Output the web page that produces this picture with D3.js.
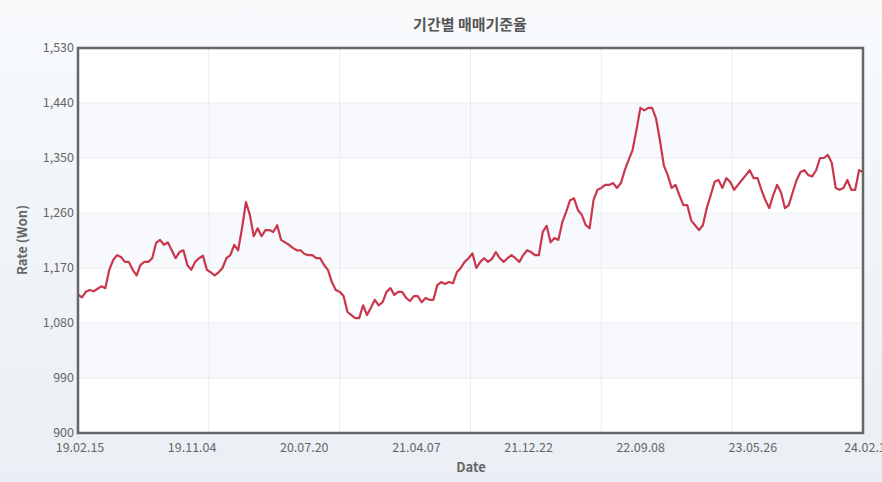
<!DOCTYPE html>
<html><head><meta charset="utf-8">
<script src="https://cdn.jsdelivr.net/npm/d3@7"></script>
<style>body{margin:0;}svg{display:block;font-family:"Noto Sans CJK KR","DejaVu Sans",sans-serif;}</style>
</head><body><svg id="c" width="882" height="482"></svg>
<script>
const title = "기간별 매매기준율";
const startDate = "2019-02-15", endDate = "2024-02-16";
const xTickLabels = ["19.02.15","19.11.04","20.07.20","21.04.07","21.12.22","22.09.08","23.05.26","24.02.1"];
const yTicks = [900,990,1080,1170,1260,1350,1440,1530];
const rates = [1127,1122,1131,1134,1132,1136,1140,1137,1167,1183,1191,1188,1180,1180,1167,1158,1175,1180,1180,1186,1211,1216,1208,1212,1199,1186,1196,1199,1175,1167,1180,1186,1190,1167,1163,1158,1163,1170,1186,1191,1208,1199,1235,1278,1257,1222,1235,1222,1232,1232,1229,1240,1216,1212,1208,1203,1199,1199,1193,1191,1191,1186,1186,1175,1167,1147,1134,1131,1124,1098,1093,1088,1088,1109,1093,1105,1118,1109,1114,1131,1137,1126,1131,1131,1121,1116,1124,1124,1114,1121,1118,1118,1142,1147,1144,1147,1145,1163,1170,1180,1186,1194,1170,1180,1186,1180,1185,1196,1186,1180,1186,1191,1186,1180,1191,1199,1196,1191,1191,1229,1239,1212,1219,1216,1245,1262,1281,1284,1265,1257,1240,1235,1281,1298,1301,1306,1306,1309,1301,1309,1330,1347,1363,1396,1432,1428,1432,1432,1415,1379,1338,1322,1301,1306,1289,1273,1273,1248,1240,1232,1240,1268,1289,1311,1314,1301,1317,1311,1298,1306,1314,1322,1330,1317,1317,1298,1281,1268,1289,1306,1294,1268,1273,1294,1314,1327,1330,1322,1320,1330,1350,1350,1355,1342,1301,1298,1301,1314,1298,1298,1330,1327];

const svg = d3.select("#c");
const W=882,H=482, m={l:78,r:19,t:48,b:49};
const defs=svg.append("defs");
const g=defs.append("linearGradient").attr("id","bg").attr("x1","0").attr("y1","0").attr("x2","0").attr("y2","1");
g.append("stop").attr("offset","0").attr("stop-color","#f8fafc");
g.append("stop").attr("offset","1").attr("stop-color","#e9eff4");
svg.append("rect").attr("width",W).attr("height",H).attr("fill","url(#bg)");

const t0=new Date(startDate), t1=new Date(endDate);
const x=d3.scaleTime().domain([t0,t1]).range([m.l,W-m.r]);
const y=d3.scaleLinear().domain([900,1530]).range([H-m.b,m.t]);
const data=rates.map((v,i)=>({d:new Date(+t0+(t1-t0)*i/(rates.length-1)),v}));

svg.append("rect").attr("x",m.l).attr("y",m.t).attr("width",W-m.l-m.r).attr("height",H-m.t-m.b).attr("fill","#fff");
// bands
for(let i=0;i<yTicks.length-1;i++){ if(i%2===1) continue;
  svg.append("rect").attr("x",m.l).attr("y",y(yTicks[i+1])).attr("width",W-m.l-m.r).attr("height",y(yTicks[i])-y(yTicks[i+1])).attr("fill",i%2===0?"#fff":"#f7f9fc");}
for(let i=0;i<yTicks.length-1;i++){ if(i%2===0) continue;
  svg.append("rect").attr("x",m.l).attr("y",y(yTicks[i+1])).attr("width",W-m.l-m.r).attr("height",y(yTicks[i])-y(yTicks[i+1])).attr("fill","#f7f9fc");}
// horizontal grid
svg.append("g").selectAll("line").data(yTicks).join("line")
 .attr("x1",m.l).attr("x2",W-m.r).attr("y1",d=>y(d)).attr("y2",d=>y(d)).attr("stroke","#e8ecf0");
// vertical grid (6 divisions)
const gridDates=d3.range(1,6).map(i=>new Date(+t0+(t1-t0)*i/6));
svg.append("g").selectAll("line").data(gridDates).join("line")
 .attr("y1",m.t).attr("y2",H-m.b).attr("x1",d=>x(d)).attr("x2",d=>x(d)).attr("stroke","#e8ecf0");

const line=d3.line().x(d=>x(d.d)).y(d=>y(d.v));
svg.append("path").datum(data).attr("d",line).attr("fill","none").attr("stroke","#c9374c").attr("stroke-width",2.2).attr("stroke-linejoin","round");

svg.append("rect").attr("x",m.l).attr("y",m.t).attr("width",W-m.l-m.r).attr("height",H-m.t-m.b).attr("fill","none").attr("stroke","#666").attr("stroke-width",2.5);

// y tick labels
svg.append("g").selectAll("text").data(yTicks).join("text")
 .attr("x",m.l-4).attr("y",d=>y(d)+4).attr("text-anchor","end").attr("font-size",12.5).attr("fill","#666").text(d3.format(","));
// x tick labels
const labDates=xTickLabels.map((s,i)=>new Date(+t0+(t1-t0)*i/(xTickLabels.length-1)));
svg.append("g").selectAll("text").data(xTickLabels).join("text")
 .attr("x",(d,i)=>x(labDates[i])+2).attr("y",H-m.b+19).attr("text-anchor","middle").attr("font-size",12.5).attr("fill","#666").text(d=>d);

svg.append("text").attr("x",470).attr("y",30).attr("text-anchor","middle").attr("font-size",15).attr("font-weight","bold").attr("fill","#555").text(title);
svg.append("text").attr("x",471).attr("y",472).attr("text-anchor","middle").attr("font-size",13).attr("font-weight","bold").attr("fill","#666").text("Date");
svg.append("text").attr("transform","translate(27,240) rotate(-90)").attr("text-anchor","middle").attr("font-size",13).attr("font-weight","bold").attr("fill","#666").text("Rate (Won)");
</script></body></html>
